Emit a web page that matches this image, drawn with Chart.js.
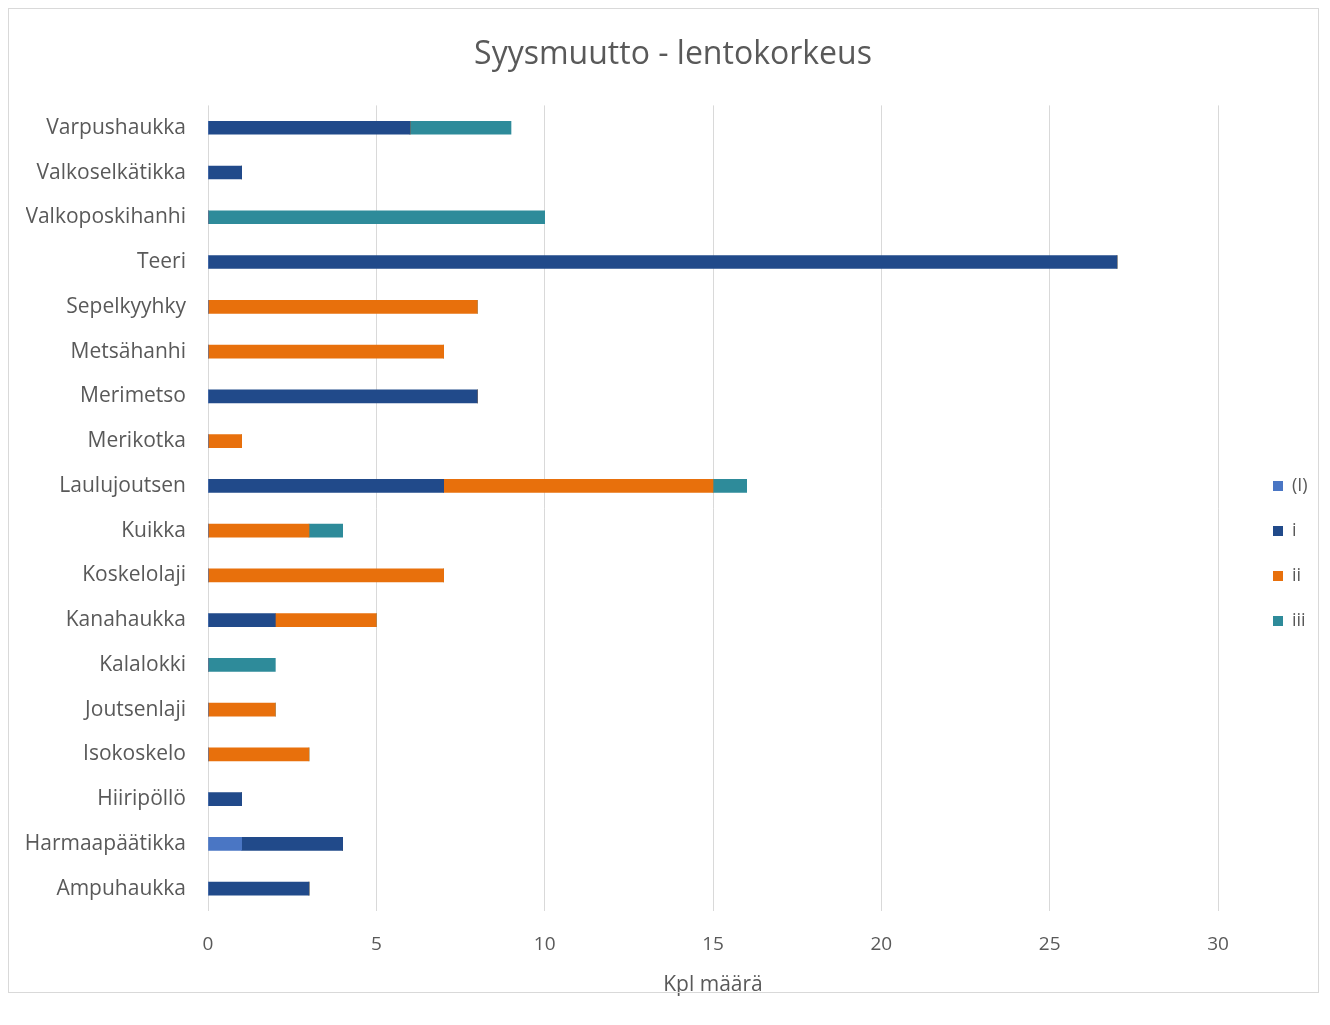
<!DOCTYPE html>
<html>
<head>
<meta charset="utf-8">
<script src="https://cdn.jsdelivr.net/npm/chart.js@4.4.1/dist/chart.umd.min.js"></script>
<style>
  html, body { margin: 0; padding: 0; background: #ffffff; }
  #wrap { position: absolute; left: 0; top: 0; width: 1330px; height: 1025px; }
  #frame { position: absolute; left: 8px; top: 8px; width: 1311px; height: 985px; border: 1px solid #d9d9d9; box-sizing: border-box; pointer-events: none; }
</style>
</head>
<body>
<div id="wrap">
  <canvas id="c" width="1330" height="1025"></canvas>
  <div id="frame"></div>
</div>
<script>
const categories = ["Varpushaukka", "Valkoselkätikka", "Valkoposkihanhi", "Teeri", "Sepelkyyhky", "Metsähanhi", "Merimetso", "Merikotka", "Laulujoutsen", "Kuikka", "Koskelolaji", "Kanahaukka", "Kalalokki", "Joutsenlaji", "Isokoskelo", "Hiiripöllö", "Harmaapäätikka", "Ampuhaukka"];
const seriesNames = ["(I)", "i", "ii", "iii"];
const valuesParenI = [0, 0, 0, 0, 0, 0, 0, 0, 0, 0, 0, 0, 0, 0, 0, 0, 1, 0];
const valuesI      = [6, 1, 0, 27, 0, 0, 8, 0, 7, 0, 0, 2, 0, 0, 0, 1, 3, 3];
const valuesII     = [0, 0, 0, 0, 8, 7, 0, 1, 8, 3, 7, 3, 0, 2, 3, 0, 0, 0];
const valuesIII    = [3, 0, 10, 0, 0, 0, 0, 0, 1, 1, 0, 0, 2, 0, 0, 0, 0, 0];
const xTickMin = 0, xTickMax = 30, xTickStep = 5;
const chartTitle = "Syysmuutto - lentokorkeus";
const xAxisTitle = "Kpl määrä";

const colors = ["#4a76c4", "#214a8a", "#e8700c", "#2e8b9a"];
const txt = "#595959";
const fontFam = "'Open Sans', Lato, sans-serif";

const layoutFix = {
  id: 'layoutFix',
  beforeInit(chart) {
    const lg = chart.legend;
    if (lg) {
      const orig = lg.fit.bind(lg);
      lg.fit = function() { orig(); this.width = 102; };
    }
  },
  afterLayout(chart) {
    const lg = chart.legend;
    if (lg) {
      lg.left = 1246; lg.right = 1330; lg.width = 84;
      lg.top = 450; lg.bottom = 1000; lg.height = 550;
    }
  }
};

new Chart(document.getElementById('c'), {
  type: 'bar',
  data: {
    labels: categories,
    datasets: [
      { label: seriesNames[0], data: valuesParenI, backgroundColor: colors[0] },
      { label: seriesNames[1], data: valuesI, backgroundColor: colors[1] },
      { label: seriesNames[2], data: valuesII, backgroundColor: colors[2] },
      { label: seriesNames[3], data: valuesIII, backgroundColor: colors[3] }
    ]
  },
  options: {
    indexAxis: 'y',
    responsive: false,
    animation: false,
    devicePixelRatio: 1,
    datasets: { bar: { barThickness: 13, borderWidth: 0 } },
    layout: { padding: { left: 26, right: 10, top: 10, bottom: 20 } },
    plugins: {
      title: {
        display: true, text: chartTitle, color: txt,
        font: { family: fontFam, size: 32, weight: 'normal' },
        padding: { top: 26, bottom: 31 }
      },
      legend: {
        display: true, position: 'right', align: 'start',
        labels: { boxWidth: 10, boxHeight: 10, padding: 27, color: txt,
          font: { family: fontFam, size: 18 } }
      },
      tooltip: { enabled: false }
    },
    scales: {
      x: {
        stacked: true, min: xTickMin, max: xTickMax,
        ticks: { stepSize: xTickStep, color: txt, padding: 22, font: { family: fontFam, size: 19 } },
        grid: { color: '#d9d9d9', lineWidth: 1, drawTicks: false },
        border: { display: false },
        title: { display: true, text: xAxisTitle, color: txt, font: { family: fontFam, size: 21 }, padding: { top: 0, bottom: 7.5 } },
        afterFit(s) { s.height = 94; }
      },
      y: {
        stacked: true,
        ticks: { color: txt, padding: 22, font: { family: fontFam, size: 21 } },
        grid: { display: false, drawTicks: false },
        border: { display: false },
        afterFit(s) { s.width = 182; }
      }
    }
  },
  plugins: [layoutFix]
});
</script>
</body>
</html>
